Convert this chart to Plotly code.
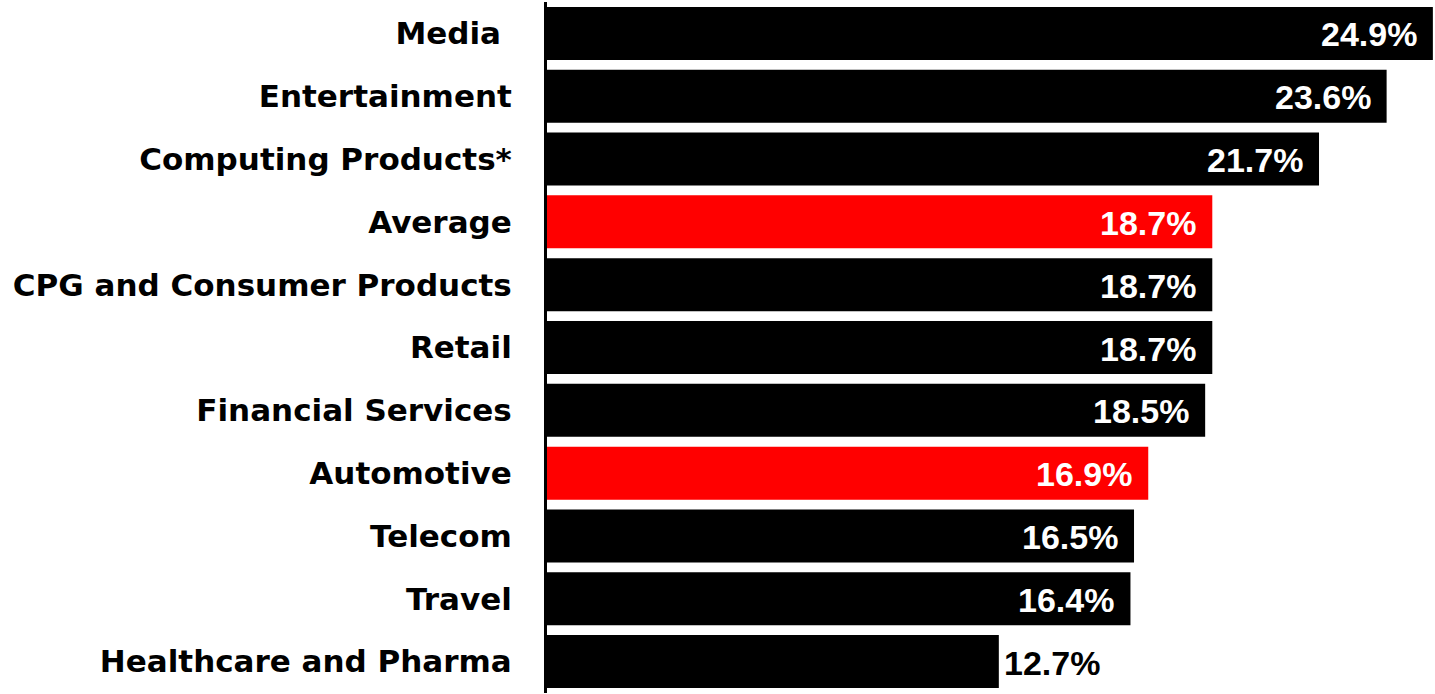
import plotly.graph_objects as go

# Share by industry, top to bottom
categories = [
    "Media",
    "Entertainment",
    "Computing Products*",
    "Average",
    "CPG and Consumer Products",
    "Retail",
    "Financial Services",
    "Automotive",
    "Telecom",
    "Travel",
    "Healthcare and Pharma",
]
values = [24.9, 23.6, 21.7, 18.7, 18.7, 18.7, 18.5, 16.9, 16.5, 16.4, 12.7]
highlighted = ["Average", "Automotive"]

BLACK = "#000000"
RED = "#ff0000"
colors = [RED if c in highlighted else BLACK for c in categories]

# pad "Media" so its label sits slightly left of the others
tick_text = [c + "\u00a0" if c == "Media" else c for c in categories]

fig = go.Figure(
    go.Bar(
        x=values,
        y=categories,
        orientation="h",
        marker=dict(color=colors, line=dict(width=0)),
        hoverinfo="skip",
    )
)

# value labels: inside the bar end in white, short bars get them outside in black
for c, v in zip(categories, values):
    inside = v >= 15
    fig.add_annotation(
        x=v,
        y=c,
        text=f"{v:.1f}%",
        showarrow=False,
        xanchor="right" if inside else "left",
        xshift=-14 if inside else 3,
        yshift=-1,
        font=dict(family="Liberation Sans, Arial, sans-serif", size=34,
                  color="white" if inside else BLACK, weight="bold"),
    )

fig.update_layout(
    width=1435,
    height=694,
    margin=dict(l=547, r=0, t=2, b=1),
    paper_bgcolor="white",
    plot_bgcolor="white",
    bargap=0.156,
    showlegend=False,
    xaxis=dict(
        range=[0, 24.96],
        visible=False,
        fixedrange=True,
    ),
    yaxis=dict(
        type="category",
        categoryorder="array",
        categoryarray=categories,
        autorange="reversed",
        tickvals=categories,
        ticktext=tick_text,
        showline=True,
        linecolor=BLACK,
        linewidth=3,
        showgrid=False,
        ticks="",
        ticklabelstandoff=26,
        tickfont=dict(family="DejaVu Sans, sans-serif", size=31,
                      color=BLACK, weight="bold"),
        fixedrange=True,
    ),
)

fig.write_html("out.html", config={"displayModeBar": False})
